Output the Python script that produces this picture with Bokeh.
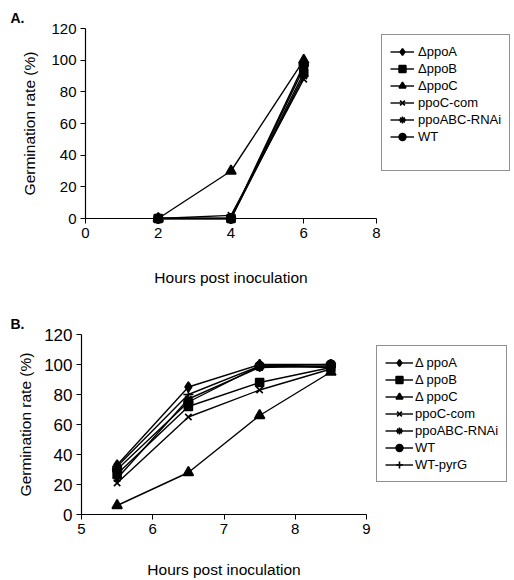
from bokeh.plotting import figure
from bokeh.layouts import column, row
from bokeh.models import Range1d, FixedTicker, Legend, LegendItem, Title
from bokeh.embed import file_html
from bokeh.resources import INLINE

FONT = "Liberation Sans"

# ---------------- Panel A data ----------------
hours_a = [2, 4, 6]
labels_a = ["\u0394ppoA", "\u0394ppoB", "\u0394ppoC", "ppoC-com", "ppoABC-RNAi", "WT"]
a_ppoA = [0, 0, 95]
a_ppoB = [0, 0, 92]
a_ppoC = [0, 30, 100]
a_ppoC_com = [0, 2, 88]
a_rnai = [0, 0, 90]
a_wt = [0, 0, 97]
series_a = [a_ppoA, a_ppoB, a_ppoC, a_ppoC_com, a_rnai, a_wt]
xticks_a = [0, 2, 4, 6, 8]

# ---------------- Panel B data ----------------
hours_b = [5.5, 6.5, 7.5, 8.5]
labels_b = ["\u0394 ppoA", "\u0394 ppoB", "\u0394 ppoC", "ppoC-com", "ppoABC-RNAi", "WT", "WT-pyrG"]
b_ppoA = [33, 85, 100, 100]
b_ppoB = [27, 72, 88, 98]
b_ppoC = [6, 28, 66, 95]
b_ppoC_com = [21, 65, 83, 97]
b_rnai = [24, 77, 98, 99]
b_wt = [30, 75, 99, 100]
b_wt_pyrg = [32, 80, 99, 98]
series_b = [b_ppoA, b_ppoB, b_ppoC, b_ppoC_com, b_rnai, b_wt, b_wt_pyrg]
xticks_b = [5, 6, 7, 8, 9]

yticks = [0, 20, 40, 60, 80, 100, 120]

markers = ["diamond", "square", "triangle", "x", "asterisk", "circle", "cross"]
msizes = [10, 8, 10, 9, 9, 9, 10]
legend_msizes = [8, 6, 8, 7, 7, 7.5, 8]


def style_axes(p, xticks, ytick_size):
    for ax in (p.xaxis[0], p.yaxis[0]):
        ax.axis_line_color = "black"
        ax.axis_line_width = 1.2
        ax.major_tick_line_color = "black"
        ax.major_tick_out = 5
        ax.major_tick_in = 0
        ax.minor_tick_line_color = None
        ax.major_label_text_color = "black"
        ax.major_label_text_font = FONT
        ax.major_label_standoff = 4
        ax.axis_label_text_font = FONT
        ax.axis_label_text_font_style = "normal"
        ax.axis_label_text_font_size = "15.5px"
        ax.axis_label_text_color = "black"
    p.xaxis[0].ticker = FixedTicker(ticks=xticks)
    p.yaxis[0].ticker = FixedTicker(ticks=yticks)
    p.xaxis[0].major_label_text_font_size = "15px"
    p.yaxis[0].major_label_text_font_size = ytick_size
    p.xgrid.grid_line_color = None
    p.ygrid.grid_line_color = None
    p.outline_line_color = None
    p.background_fill_color = "white"
    p.border_fill_color = "white"


def add_series(p, xs, ys, i, level, size):
    lr = p.line(xs, ys, line_color="black", line_width=1.4, level=level)
    sr = p.scatter(xs, ys, marker=markers[i], size=size,
                   fill_color="black", line_color="black", line_width=1.6,
                   level=level)
    return lr, sr


def draw_series(p, xs, series):
    for i, ys in enumerate(series):
        add_series(p, xs, ys, i, "overlay", msizes[i])


def legend_figure(width, height, xs, series, labels, loc, glyph_width, standoff,
                  extra_blank=False):
    # companion figure that only shows the legend; its renderers use the same
    # data but sit outside its (0..1) ranges, so only their legend glyphs show
    lf = figure(width=width, height=height, output_backend="svg", toolbar_location=None,
                title=None, x_range=Range1d(0, 1), y_range=Range1d(0, 1),
                x_axis_location=None, y_axis_location=None,
                min_border_left=0, min_border_right=0, min_border_top=0,
                min_border_bottom=0)
    lf.xgrid.grid_line_color = None
    lf.ygrid.grid_line_color = None
    lf.outline_line_color = None
    lf.background_fill_color = "white"
    lf.border_fill_color = "white"
    items = []
    for i, (ys, lab) in enumerate(zip(series, labels)):
        lr, sr = add_series(lf, xs, ys, i, "glyph", legend_msizes[i])
        items.append(LegendItem(label=lab, renderers=[lr, sr], index=0))
    if extra_blank:
        blank = lf.line(xs, series[0], line_alpha=0)
        items.append(LegendItem(label=" ", renderers=[blank], index=0))
    leg = Legend(items=items, location=loc, margin=0, padding=8,
                 spacing=0, glyph_height=17, label_height=17, glyph_width=glyph_width,
                 label_standoff=standoff, label_text_font=FONT, label_text_font_size="13px",
                 label_text_color="black", border_line_color="#222222",
                 border_line_width=1.2, background_fill_color="white",
                 background_fill_alpha=1.0)
    lf.add_layout(leg, "center")
    return lf


def panel_title(text, offset):
    return Title(text=text, align="left", offset=offset, text_font=FONT,
                 text_font_size="14px", text_font_style="bold", text_color="black",
                 standoff=6)


# ---------------- Figure A ----------------
pa = figure(width=381, height=295, output_backend="svg", toolbar_location=None,
            title=None, x_range=Range1d(0, 8), y_range=Range1d(0, 120),
            min_border_left=85, min_border_right=5, min_border_top=28,
            min_border_bottom=77)
style_axes(pa, xticks_a, "15px")
pa.xaxis.axis_label = "Hours post inoculation"
pa.yaxis.axis_label = "Germination rate (%)"
pa.xaxis.axis_label_standoff = 28
pa.yaxis.axis_label_standoff = 10
draw_series(pa, hours_a, series_a)
pa.add_layout(panel_title("A.", -75), "above")
la = legend_figure(133, 295, hours_a, series_a, labels_a, (0, 47), 24, 4, extra_blank=True)

# ---------------- Figure B ----------------
pb = figure(width=371, height=285, output_backend="svg", toolbar_location=None,
            title=None, x_range=Range1d(5, 9), y_range=Range1d(0, 120),
            min_border_left=81, min_border_right=5, min_border_top=39,
            min_border_bottom=65)
style_axes(pb, xticks_b, "17px")
pb.xaxis.axis_label = "Hours post inoculation"
pb.yaxis.axis_label = "Germination rate (%)"
pb.xaxis.axis_label_standoff = 24
pb.yaxis.axis_label_standoff = 7
draw_series(pb, hours_b, series_b)
pb.add_layout(panel_title("B.", -71), "above")
lb = legend_figure(143, 285, hours_b, series_b, labels_b, (5, 32), 28, 2)

layout = column(row(pa, la, spacing=0), row(pb, lb, spacing=0), spacing=0)
open("out.html", "w").write(file_html(layout, INLINE))
